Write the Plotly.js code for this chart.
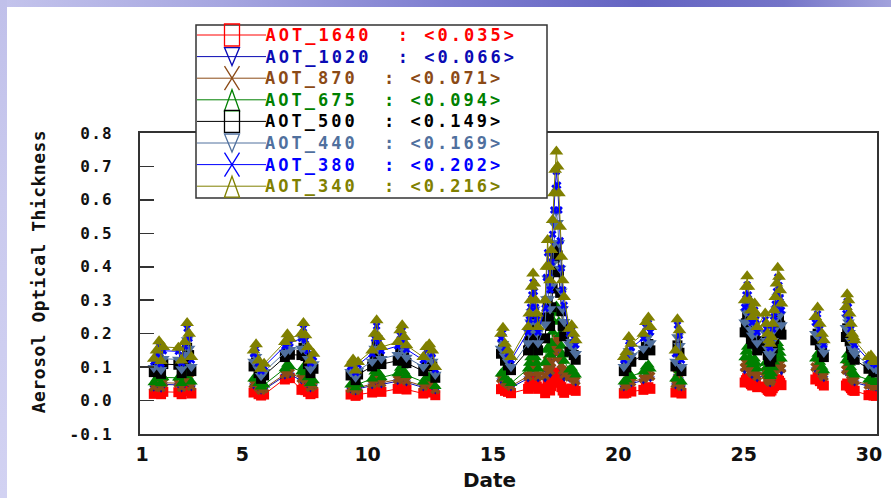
<!DOCTYPE html>
<html>
<head>
<meta charset="utf-8">
<script src="https://cdn.plot.ly/plotly-3.0.1.min.js"></script>
<style>
  html, body { margin:0; padding:0; width:891px; height:498px; overflow:hidden; background:#ffffff; }
  #topband { position:absolute; left:0; top:0; width:891px; height:7px;
    background: linear-gradient(to right, #c4c4ec 0%, #a6a6e0 25%, #7e7ed0 50%, #6464c2 72%, #7474c8 88%, #a2a2dc 100%); }
  #leftband { position:absolute; left:0; top:0; width:7px; height:498px;
    background: linear-gradient(to bottom, #c0c0ea 0%, #cacaee 40%, #d2d2f2 100%); }
  #plot { position:absolute; left:7px; top:7px; width:884px; height:491px; }
  #plot .ytick text { letter-spacing: 1.2px; }
  #plot .ytitle { letter-spacing: 0.5px; }
</style>
</head>
<body>
<div id="topband"></div>
<div id="leftband"></div>
<div id="plot"></div>
<script>
// ---- data ----
const dates = [1.47,1.58,1.68,1.76,1.85,2.45,2.58,2.70,2.80,2.88,2.97,null,
5.45,5.55,5.65,5.75,5.87,6.70,6.80,6.90,7.36,7.44,7.52,7.62,7.72,7.84,null,
9.32,9.42,9.52,9.62,10.18,10.28,10.36,10.45,10.55,11.20,11.30,11.38,11.46,11.55,12.22,12.34,12.46,12.58,12.70,null,
15.32,15.40,15.48,15.60,15.72,16.40,16.45,16.50,16.55,16.60,16.65,16.70,16.75,16.80,
17.08,17.13,17.18,17.23,17.28,17.33,17.38,17.43,17.48,17.53,17.58,17.63,17.68,17.73,17.78,17.84,18.05,18.14,18.22,18.30,null,
20.22,20.32,20.42,20.52,21.00,21.10,21.20,21.28,null,
22.28,22.36,22.44,22.52,null,
25.04,25.09,25.14,25.19,25.24,25.29,25.34,25.39,25.44,25.49,25.54,
25.86,25.91,25.96,26.01,26.06,26.11,26.16,26.21,26.26,26.31,26.36,26.41,26.46,26.51,null,
27.86,27.95,28.04,28.13,28.20,null,
29.08,29.13,29.18,29.23,29.28,29.33,29.38,29.43,29.98,30.08,30.18,30.28];

const aot1640 = [.020,.024,.028,.019,.026,.025,.019,.028,.037,.032,.021,null,
.024,.027,.019,.015,.018,.063,.071,.067,.032,.037,.031,.026,.019,.022,null,
.018,.020,.014,.018,.024,.032,.038,.030,.026,.035,.042,.045,.038,.033,.021,.026,.027,.024,.016,null,
.034,.037,.029,.026,.022,.035,.042,.048,.054,.061,.056,.048,.042,.035,
.022,.036,.047,.036,.030,.043,.056,.067,.077,.084,.078,.067,.053,.040,.030,.023,.034,.036,.032,.029,null,
.021,.023,.030,.027,.032,.038,.040,.035,null,
.024,.039,.034,.021,null,
.054,.061,.067,.061,.054,.049,.045,.049,.052,.047,.040,
.042,.037,.032,.029,.027,.030,.037,.043,.050,.056,.064,.059,.053,.046,null,
.063,.070,.058,.050,.045,null,
.045,.051,.048,.042,.037,.032,.030,.029,.016,.017,.015,.014];

const aot1020 = [.038,.045,.053,.035,.048,.047,.036,.053,.070,.060,.039,null,
.045,.050,.036,.029,.033,.074,.083,.078,.060,.070,.059,.048,.036,.042,null,
.033,.037,.027,.035,.045,.060,.072,.057,.048,.058,.069,.074,.063,.054,.039,.048,.050,.045,.030,null,
.060,.065,.051,.045,.039,.066,.078,.090,.102,.114,.105,.090,.078,.066,
.066,.088,.106,.088,.079,.099,.119,.136,.152,.164,.154,.136,.114,.095,.079,.068,.065,.068,.060,.054,null,
.039,.044,.057,.051,.060,.071,.074,.066,null,
.045,.073,.063,.039,null,
.090,.102,.112,.102,.090,.081,.075,.081,.087,.078,.066,
.078,.069,.060,.054,.051,.057,.069,.081,.093,.105,.119,.111,.099,.087,null,
.093,.103,.085,.074,.067,null,
.084,.095,.090,.078,.069,.060,.057,.054,.043,.045,.040,.038];

const aot870 = [.041,.050,.058,.039,.053,.052,.040,.058,.077,.066,.043,null,
.050,.055,.040,.031,.036,.079,.089,.083,.066,.077,.064,.053,.040,.046,null,
.036,.041,.030,.038,.050,.066,.079,.063,.053,.063,.076,.081,.068,.059,.043,.053,.055,.050,.033,null,
.066,.072,.056,.050,.043,.073,.086,.099,.112,.125,.116,.099,.086,.073,
.075,.100,.120,.100,.090,.113,.135,.155,.173,.186,.175,.155,.130,.108,.090,.078,.071,.074,.066,.059,null,
.043,.048,.063,.056,.066,.078,.082,.073,null,
.050,.080,.069,.043,null,
.099,.112,.123,.112,.099,.089,.083,.089,.096,.086,.073,
.086,.076,.066,.059,.056,.063,.076,.089,.102,.116,.131,.122,.109,.096,null,
.100,.111,.092,.080,.072,null,
.092,.105,.099,.086,.076,.066,.063,.059,.047,.049,.044,.042];

const aot675 = [.054,.065,.076,.051,.069,.068,.052,.075,.100,.086,.056,null,
.065,.072,.052,.041,.047,.096,.109,.102,.086,.100,.084,.069,.052,.060,null,
.047,.053,.039,.049,.065,.086,.103,.082,.069,.081,.097,.104,.087,.076,.056,.069,.072,.065,.043,null,
.080,.087,.068,.060,.052,.095,.112,.129,.146,.163,.151,.129,.112,.095,
.114,.152,.182,.152,.137,.171,.205,.236,.262,.283,.266,.236,.198,.163,.137,.118,.092,.097,.086,.077,null,
.056,.062,.082,.073,.086,.101,.107,.095,null,
.065,.104,.090,.056,null,
.129,.146,.160,.146,.129,.116,.108,.116,.125,.112,.095,
.112,.099,.086,.077,.073,.082,.099,.116,.133,.151,.171,.159,.142,.125,null,
.125,.139,.115,.100,.090,null,
.120,.137,.129,.112,.099,.086,.082,.077,.062,.065,.058,.055];

const aot500 = [.085,.102,.120,.080,.109,.107,.082,.119,.158,.136,.088,null,
.102,.114,.082,.065,.075,.130,.147,.137,.136,.158,.133,.109,.082,.095,null,
.075,.084,.061,.078,.102,.136,.163,.129,.109,.119,.143,.153,.129,.112,.088,.109,.114,.102,.068,null,
.140,.153,.119,.105,.091,.150,.177,.204,.231,.258,.238,.204,.177,.150,
.186,.248,.298,.248,.223,.279,.335,.384,.428,.462,.434,.384,.322,.267,.223,.192,.146,.153,.136,.122,null,
.088,.099,.129,.116,.136,.160,.169,.150,null,
.102,.165,.143,.088,null,
.204,.231,.253,.231,.204,.184,.170,.184,.197,.177,.150,
.177,.156,.136,.122,.116,.129,.156,.184,.211,.238,.270,.252,.224,.197,null,
.180,.200,.166,.144,.130,null,
.190,.216,.204,.177,.156,.136,.129,.122,.095,.099,.088,.084];

const aot440 = [.098,.117,.138,.092,.125,.123,.094,.137,.181,.156,.101,null,
.117,.131,.094,.074,.086,.144,.162,.152,.156,.181,.152,.125,.094,.109,null,
.086,.096,.070,.090,.117,.156,.187,.148,.125,.137,.164,.176,.148,.129,.101,.125,.131,.117,.078,null,
.156,.170,.133,.117,.101,.172,.203,.234,.265,.296,.273,.234,.203,.172,
.228,.304,.365,.304,.274,.342,.410,.471,.524,.566,.532,.471,.395,.327,.274,.236,.168,.176,.156,.140,null,
.101,.113,.148,.133,.156,.183,.193,.172,null,
.117,.190,.164,.101,null,
.234,.265,.290,.265,.234,.211,.195,.211,.226,.203,.172,
.203,.179,.156,.140,.133,.148,.179,.211,.242,.273,.310,.289,.257,.226,null,
.200,.222,.184,.160,.144,null,
.218,.248,.234,.203,.179,.156,.148,.140,.107,.111,.098,.094];

const aot380 = [.116,.140,.165,.110,.149,.147,.112,.163,.216,.186,.121,null,
.140,.156,.112,.088,.102,.163,.184,.172,.186,.216,.181,.149,.112,.130,null,
.102,.114,.084,.107,.140,.186,.223,.177,.149,.163,.195,.209,.177,.153,.121,.149,.156,.140,.093,null,
.186,.203,.158,.140,.121,.205,.242,.279,.316,.353,.326,.279,.242,.205,
.276,.368,.442,.368,.331,.414,.497,.570,.635,.685,.644,.570,.478,.396,.331,.285,.200,.209,.186,.167,null,
.121,.135,.177,.158,.186,.219,.231,.205,null,
.140,.226,.195,.121,null,
.279,.316,.346,.316,.279,.251,.233,.251,.270,.242,.205,
.242,.214,.186,.167,.158,.177,.214,.251,.288,.326,.369,.344,.307,.270,null,
.233,.259,.214,.186,.167,null,
.260,.296,.279,.242,.214,.186,.177,.167,.121,.126,.112,.107];

const aot340 = [.125,.150,.177,.118,.160,.158,.120,.175,.232,.200,.130,null,
.150,.168,.120,.095,.110,.175,.198,.185,.200,.232,.195,.160,.120,.140,null,
.110,.123,.090,.115,.150,.200,.240,.190,.160,.175,.210,.225,.190,.165,.130,.160,.168,.150,.100,null,
.200,.218,.170,.150,.130,.220,.260,.300,.340,.380,.350,.300,.260,.220,
.300,.400,.480,.400,.360,.450,.540,.620,.690,.745,.700,.620,.520,.430,.360,.310,.215,.225,.200,.180,null,
.130,.145,.190,.170,.200,.235,.248,.220,null,
.150,.243,.210,.130,null,
.300,.340,.372,.340,.300,.270,.250,.270,.290,.260,.220,
.260,.230,.200,.180,.170,.190,.230,.270,.310,.350,.397,.370,.330,.290,null,
.250,.278,.230,.200,.180,null,
.280,.318,.300,.260,.230,.200,.190,.180,.130,.135,.120,.115];

const seriesNames = ['AOT_1640','AOT_1020','AOT_870','AOT_675','AOT_500','AOT_440','AOT_380','AOT_340'];
const seriesMeans = ['0.035','0.066','0.071','0.094','0.149','0.169','0.202','0.216'];
const xTicks = [1,5,10,15,20,25,30];
const xTickLabels = ['1','5','10','15','20','25','30'];
const yTicks = [-0.1,0.0,0.1,0.2,0.3,0.4,0.5,0.6,0.7,0.8];
const yTickLabels = ['-0.1','0.0','0.1','0.2','0.3','0.4','0.5','0.6','0.7','0.8'];

// ---- styling ----
const seriesValues = [aot1640,aot1020,aot870,aot675,aot500,aot440,aot380,aot340];
const colors = ['#ff0000','#0a0ab4','#8b4a16','#008000','#000000','#50709e','#0000ff','#808000'];
const symbols = ['square','triangle-down','x','triangle-up','square','triangle-down','x','triangle-up'];
const sizes = [10,8,9,11,10,11,7,12];
const legendKinds = ['sq','td','x','tu','sq','td','x','tu'];

const traces = seriesValues.map((vals,i)=>({
  type:'scatter', mode:'lines+markers', x:dates, y:vals, name:seriesNames[i],
  connectgaps:false, cliponaxis:true,
  line:{color:colors[i], width:1},
  marker:{symbol:symbols[i], size:sizes[i], color:colors[i], line:{width:0}},
  hoverinfo:'x+y+name'
}));

// pixel helpers (page coords -> paper coords)
const OFFX = 7, OFFY = 7, ML = 133, MT = 126, PW = 737, PH = 301;
const px = v => (v - OFFX - ML)/PW;
const py = v => (MT + PH - (v - OFFY))/PH;

const LS = 3.0; // letter spacing applied to legend texts after drawing
const shapes = [];
const annotations = [];
// legend box
shapes.push({type:'rect', xref:'paper', yref:'paper', x0:px(196), x1:px(547), y0:py(198), y1:py(25),
  fillcolor:'#ffffff', line:{color:'#333333', width:1.5}, layer:'above'});
const nb = '\u00a0';
for (let i=0;i<8;i++){
  const yc = 35 + i*21.6;
  const c = colors[i];
  shapes.push({type:'line', xref:'paper', yref:'paper', x0:px(197), x1:px(266), y0:py(yc), y1:py(yc),
    line:{color:c, width:1}, layer:'above'});
  const cx = 232, hw = 7.5, hh = 11;
  let path;
  const P = (x,y)=> px(x).toFixed(5)+','+py(y).toFixed(5);
  if (legendKinds[i]==='sq') path = 'M'+P(cx-hw,yc-hh)+'L'+P(cx+hw,yc-hh)+'L'+P(cx+hw,yc+hh)+'L'+P(cx-hw,yc+hh)+'Z';
  else if (legendKinds[i]==='td') path = 'M'+P(cx-hw,yc-hh+2)+'L'+P(cx+hw,yc-hh+2)+'L'+P(cx,yc+hh-2)+'Z';
  else if (legendKinds[i]==='tu') path = 'M'+P(cx,yc-hh+1)+'L'+P(cx+hw,yc+hh)+'L'+P(cx-hw,yc+hh)+'Z';
  else path = 'M'+P(cx-hw,yc-hh-1)+'L'+P(cx+hw,yc+hh+1)+'M'+P(cx+hw,yc-hh-1)+'L'+P(cx-hw,yc+hh+1);
  shapes.push({type:'path', xref:'paper', yref:'paper', path:path, line:{color:c, width:1.3}, layer:'above'});
  const txt = seriesNames[i] + nb + nb + ':' + nb + '<' + seriesMeans[i] + '>';
  const shift = txt.length * LS / 2;
  annotations.push({xref:'paper', yref:'paper', x:px(264 + shift), y:py(yc), xanchor:'left', yanchor:'middle',
    showarrow:false, borderpad:0,
    text: seriesNames[i] + nb + nb + ':' + nb + '&lt;' + seriesMeans[i] + '&gt;',
    font:{family:'DejaVu Sans Mono', size:17, weight:'bold', color:c}});
}

const layout = {
  width:884, height:491,
  margin:{l:ML, r:14, t:MT, b:64, pad:0},
  paper_bgcolor:'#ffffff', plot_bgcolor:'#ffffff',
  showlegend:false,
  xaxis:{range:[0.92,30.32], tickmode:'array', tickvals:xTicks, ticktext:xTickLabels, ticks:'',
    showline:true, mirror:true, linecolor:'#333333', linewidth:2, showgrid:false, zeroline:false,
    tickfont:{family:'DejaVu Sans', size:19, weight:'bold', color:'#111111'}, ticklabelstandoff:2,
    title:{text:'Date', font:{family:'DejaVu Sans', size:20, weight:'bold', color:'#111111'}, standoff:9}},
  yaxis:{range:[-0.1,0.8], tickmode:'array', tickvals:yTicks, ticktext:yTickLabels, ticks:'inside', ticklen:14,
    tickwidth:1.5, tickcolor:'#333333',
    showline:true, mirror:true, linecolor:'#333333', linewidth:2, showgrid:false, zeroline:false,
    tickfont:{family:'DejaVu Sans Mono', size:16, weight:'bold', color:'#111111'}, ticklabelstandoff:22,
    title:{text:'Aerosol Optical Thickness', font:{family:'DejaVu Sans Mono', size:18, weight:'bold', color:'#111111'}, standoff:26}},
  shapes:shapes,
  annotations:annotations
};

Plotly.newPlot('plot', traces, layout, {displayModeBar:false, staticPlot:true}).then(gd=>{
  // wider glyph spacing for the legend texts, like the reference's wide bitmap font
  gd.querySelectorAll('.annotation-text').forEach(el=>{ el.style.letterSpacing = LS + 'px'; });
  // nudge axis titles to the positions seen in the reference
  const xt = gd.querySelector('.xtitle');
  if (xt) { const t = xt.getAttribute('transform') || ''; xt.setAttribute('transform', 'translate(-19,0) ' + t); }
  const yt = gd.querySelector('.ytitle');
  if (yt) { const t = yt.getAttribute('transform') || ''; yt.setAttribute('transform', 'translate(2,-12) ' + t); }
});
</script>
</body>
</html>
